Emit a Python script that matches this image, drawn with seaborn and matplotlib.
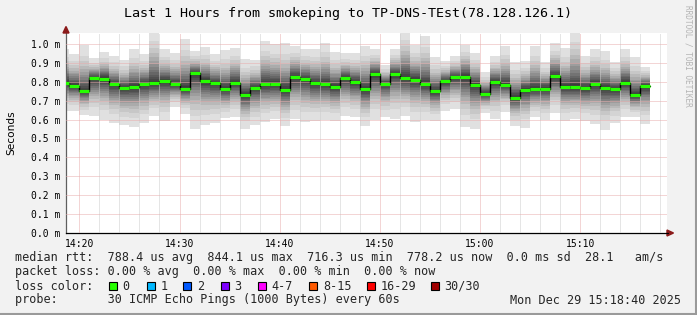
import numpy as np
import pandas as pd
import matplotlib
matplotlib.use("Agg")
import matplotlib.pyplot as plt
import seaborn as sns
from matplotlib.patches import Rectangle, Polygon
from matplotlib.lines import Line2D

# ---------------- data ----------------
# minute at which each one-minute step starts (minutes after 14:00)
step_start_min = list(range(18, 77))

median_ms = [0.795, 0.778, 0.750, 0.818, 0.817, 0.787, 0.767, 0.772, 0.788, 0.792,
             0.804, 0.788, 0.764, 0.844, 0.804, 0.792, 0.762, 0.795, 0.730, 0.767,
             0.788, 0.788, 0.757, 0.825, 0.813, 0.792, 0.788, 0.772, 0.818, 0.799,
             0.760, 0.840, 0.790, 0.841, 0.818, 0.810, 0.787, 0.750, 0.802, 0.824,
             0.827, 0.785, 0.737, 0.799, 0.785, 0.716, 0.757, 0.762, 0.764, 0.829,
             0.774, 0.771, 0.766, 0.787, 0.767, 0.760, 0.795, 0.730, 0.778]

smoke_max_ms = [0.972, 0.947, 0.995, 0.924, 0.956, 0.937, 0.915, 0.972, 0.945, 1.080,
                0.972, 0.951, 1.026, 0.961, 0.982, 0.945, 0.968, 0.979, 0.919, 0.915,
                1.016, 0.998, 1.004, 0.991, 0.972, 0.975, 1.005, 0.958, 0.951, 0.951,
                0.991, 0.972, 0.889, 0.974, 1.080, 0.995, 1.042, 0.929, 0.910, 0.937,
                0.996, 0.954, 0.852, 0.938, 0.991, 0.907, 0.910, 0.991, 0.903, 1.004,
                0.977, 1.080, 0.938, 0.974, 0.961, 0.907, 0.974, 0.929, 0.880]

smoke_min_ms = [0.647, 0.647, 0.624, 0.619, 0.598, 0.584, 0.571, 0.563, 0.580, 0.619,
                0.594, 0.665, 0.628, 0.550, 0.571, 0.584, 0.607, 0.612, 0.550, 0.571,
                0.589, 0.601, 0.566, 0.601, 0.589, 0.593, 0.598, 0.594, 0.619, 0.612,
                0.568, 0.598, 0.612, 0.603, 0.619, 0.589, 0.598, 0.593, 0.647, 0.656,
                0.563, 0.550, 0.633, 0.603, 0.642, 0.566, 0.557, 0.612, 0.598, 0.633,
                0.594, 0.601, 0.594, 0.577, 0.545, 0.580, 0.612, 0.612, 0.577]

x_tick_min = [20, 30, 40, 50, 60, 70]
x_tick_labels = ["14:20", "14:30", "14:40", "14:50", "15:00", "15:10"]
y_tick_vals = [0.0, 0.1, 0.2, 0.3, 0.4, 0.5, 0.6, 0.7, 0.8, 0.9, 1.0]

title_text = "Last 1 Hours from smokeping to TP-DNS-TEst(78.128.126.1)"
line_rtt = "median rtt:  788.4 us avg  844.1 us max  716.3 us min  778.2 us now  0.0 ms sd  28.1   am/s"
line_loss = "packet loss: 0.00 % avg  0.00 % max  0.00 % min  0.00 % now"
line_color = "loss color:"
line_probe = "probe:       30 ICMP Echo Pings (1000 Bytes) every 60s"
date_text = "Mon Dec 29 15:18:40 2025"
loss_labels = ["0", "1", "2", "3", "4-7", "8-15", "16-29", "30/30"]
loss_colors = ["#26ff00", "#00b8ff", "#0059ff", "#7e00ff", "#ff00ff", "#ff5a00", "#ff0000", "#a10000"]

# ---------------- style ----------------
sns.set_style("white")
plt.rcParams["font.family"] = ["DejaVu Sans Mono", "DejaVu Sans"]

W, H = 697, 315
BG = "#f2f2f2"
fig = plt.figure(figsize=(W / 100, H / 100), dpi=100, facecolor=BG)


def fx(x):
    return x / W


def fy(y):
    return 1 - y / H


ax = fig.add_axes([fx(66), fy(233), 601 / W, 200 / H])
ax.set_facecolor("white")

df = pd.DataFrame({"t": step_start_min, "median": median_ms,
                   "hi": smoke_max_ms, "lo": smoke_min_ms})
# extra end point so the last step is drawn for a full minute
t_edges = np.append(df["t"].values, df["t"].values[-1] + 1)
med_e = np.append(df["median"].values, df["median"].values[-1])
hi_e = np.append(df["hi"].values, df["hi"].values[-1])
lo_e = np.append(df["lo"].values, df["lo"].values[-1])

# smoke: nested bands, light outside -> dark inside
band_frac = [1.0, 0.77, 0.65, 0.55, 0.48, 0.41, 0.36, 0.30, 0.25, 0.20, 0.16, 0.12, 0.08, 0.05]
band_gray = ["#e0e0e0", "#d4d4d4", "#c7c7c7", "#b9b9b9", "#ababab", "#9d9d9d", "#8f8f8f",
             "#818181", "#737373", "#666666", "#5a5a5a", "#4f4f4f", "#454545", "#3c3c3c"]
for f, c in zip(band_frac, band_gray):
    ax.fill_between(t_edges, med_e - f * (med_e - lo_e), med_e + f * (hi_e - med_e),
                    step="post", color=c, lw=0, zorder=1)

# median: black step connector + green horizontal segments
line_df = pd.DataFrame({"t": t_edges, "median": med_e})
sns.lineplot(data=line_df, x="t", y="median", drawstyle="steps-post",
             color="black", lw=1.0, ax=ax, zorder=4)
ax.hlines(df["median"], df["t"], df["t"] + 1, color="#26ff00", lw=2.3, zorder=5)

# axes & grid
ax.set_xlim(18 + 40 / 60, 78 + 40 / 60)
ax.set_ylim(0, 200 / 189)
ax.set_xticks(x_tick_min)
ax.set_xticklabels(x_tick_labels)
ax.set_xticks(list(range(20, 79, 2)), minor=True)
ax.set_yticks(y_tick_vals)
ax.set_yticklabels([f"{v:.1f} m" for v in y_tick_vals])
ax.set_xlabel("")
ax.set_ylabel("")
ax.set_axisbelow(False)
dot = (0, (1, 1))
ax.grid(which="minor", axis="x", color="#cccccc", lw=0.72, ls=dot)
ax.grid(which="major", axis="x", color="#e8acac", lw=0.72, ls=dot)
ax.grid(which="major", axis="y", color="#e8acac", lw=0.72, ls=dot)
ax.tick_params(axis="both", which="major", length=2.2, width=0.72, color="#e8acac",
               labelsize=7.0, pad=2.0, labelcolor="black")
ax.tick_params(axis="x", which="minor", length=0)
for s in ["top", "right"]:
    ax.spines[s].set_visible(False)
ax.spines["left"].set_color("#606060")
ax.spines["left"].set_linewidth(0.9)
ax.spines["bottom"].set_color("black")
ax.spines["bottom"].set_linewidth(0.9)

# arrows on the axes
fig.add_artist(Polygon([(fx(63), fy(33)), (fx(69), fy(33)), (fx(66), fy(26.5))],
                       closed=True, color="#8b1a1a", transform=fig.transFigure))
fig.add_artist(Polygon([(fx(667), fy(230)), (fx(667), fy(236)), (fx(673.5), fy(233))],
                       closed=True, color="#8b1a1a", transform=fig.transFigure))
fig.add_artist(Line2D([fx(666), fx(668)], [fy(233), fy(233)], color="black", lw=0.9,
                      transform=fig.transFigure))

# texts
fig.text(0.5, fy(14), title_text, ha="center", va="center", fontsize=9.6, color="black")
fig.text(fx(11), fy(133), "Seconds", rotation=90, ha="center", va="center",
         fontsize=7.6, family="DejaVu Sans", color="black")
fig.text(fx(688), fy(5), "RRDTOOL / TOBI OETIKER", rotation=-90, ha="center", va="top",
         fontsize=5.6, color="#b4b4b4")

x0 = 15
fig.text(fx(x0), fy(258), line_rtt, ha="left", va="center", fontsize=8.45)
fig.text(fx(x0), fy(272), line_loss, ha="left", va="center", fontsize=8.45)
fig.text(fx(x0), fy(286), line_color, ha="left", va="center", fontsize=8.45)
fig.text(fx(x0), fy(300), line_probe, ha="left", va="center", fontsize=8.45)
fig.text(fx(681), fy(300), date_text, ha="right", va="center", fontsize=8.45)

box_x = [108.5, 146.5, 183.5, 220.5, 257.5, 309, 366.5, 430.5]
for bx, col, lab in zip(box_x, loss_colors, loss_labels):
    fig.add_artist(Rectangle((fx(bx), fy(290)), 8 / W, 8 / H, facecolor=col,
                             edgecolor="black", lw=0.8, transform=fig.transFigure))
    fig.text(fx(bx + 14), fy(286), lab, ha="left", va="center", fontsize=8.45)

# outer frame (right / bottom shading)
fig.add_artist(Line2D([fx(696), fx(696)], [fy(0), fy(315)], color="#9a9a9a", lw=1.5,
                      transform=fig.transFigure))
fig.add_artist(Line2D([fx(0), fx(697)], [fy(314), fy(314)], color="#9a9a9a", lw=1.5,
                      transform=fig.transFigure))

fig.savefig("out.png", dpi=100, facecolor=BG)
